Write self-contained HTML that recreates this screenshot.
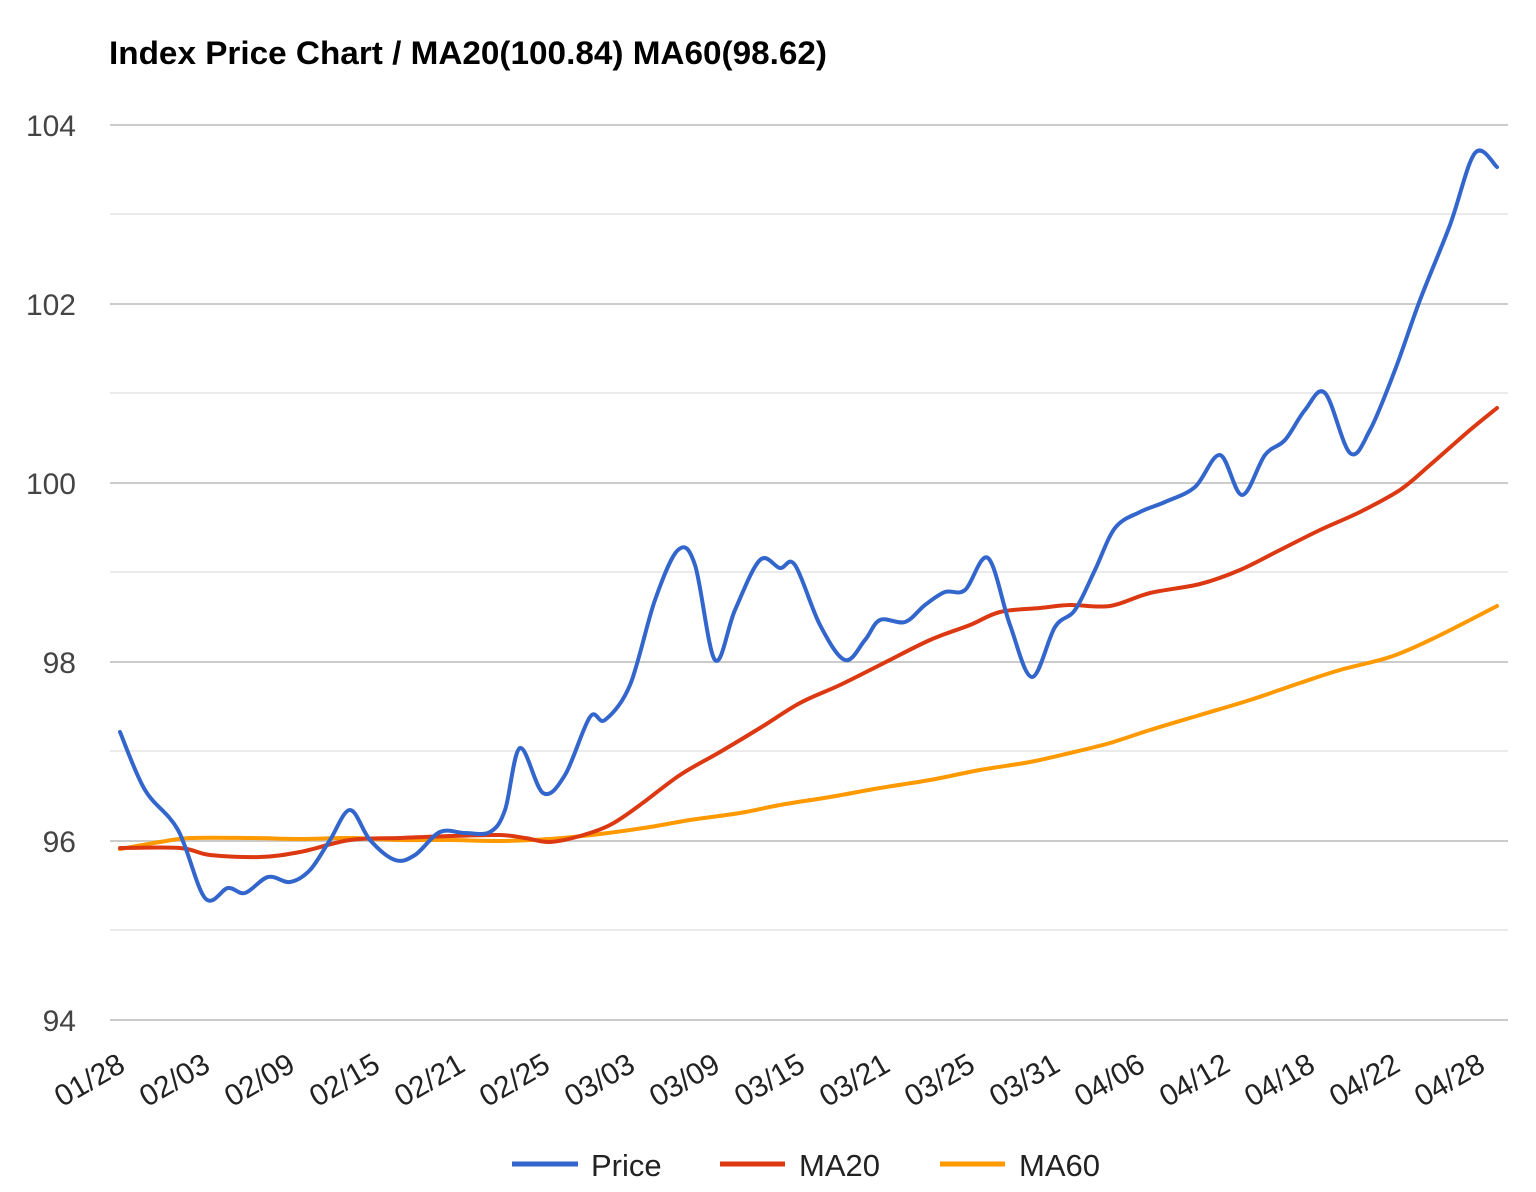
<!DOCTYPE html>
<html><head><meta charset="utf-8"><style>
body{margin:0;background:#fff;}
svg{display:block;font-family:"Liberation Sans",Arial,sans-serif;}
</style></head><body>
<svg id="s" width="1536" height="1192" viewBox="0 0 1536 1192">
<rect width="1536" height="1192" fill="#fff"/>
<text x="109" y="64" font-size="32" font-weight="bold" fill="#000" textLength="718" lengthAdjust="spacingAndGlyphs">Index Price Chart / MA20(100.84) MA60(98.62)</text>
<g stroke="#ebebeb" stroke-width="2">
<line x1="110" x2="1508" y1="214" y2="214"/><line x1="110" x2="1508" y1="393" y2="393"/>
<line x1="110" x2="1508" y1="572" y2="572"/><line x1="110" x2="1508" y1="751" y2="751"/>
<line x1="110" x2="1508" y1="930" y2="930"/>
</g>
<g stroke="#cccccc" stroke-width="2">
<line x1="110" x2="1508" y1="125" y2="125"/><line x1="110" x2="1508" y1="304" y2="304"/>
<line x1="110" x2="1508" y1="483" y2="483"/><line x1="110" x2="1508" y1="662" y2="662"/>
<line x1="110" x2="1508" y1="841" y2="841"/><line x1="110" x2="1508" y1="1020" y2="1020"/>
</g>
<g font-size="30" fill="#444" text-anchor="end">
<text x="76" y="136">104</text><text x="76" y="315">102</text><text x="76" y="494">100</text>
<text x="76" y="673">98</text><text x="76" y="852">96</text><text x="76" y="1031">94</text>
</g>
<g font-size="30" fill="#222" text-anchor="end">
<text transform="translate(127,1070) rotate(-30)">01/28</text>
<text transform="translate(212,1070) rotate(-30)">02/03</text>
<text transform="translate(297,1070) rotate(-30)">02/09</text>
<text transform="translate(382,1070) rotate(-30)">02/15</text>
<text transform="translate(467,1070) rotate(-30)">02/21</text>
<text transform="translate(552,1070) rotate(-30)">02/25</text>
<text transform="translate(637,1070) rotate(-30)">03/03</text>
<text transform="translate(722,1070) rotate(-30)">03/09</text>
<text transform="translate(807,1070) rotate(-30)">03/15</text>
<text transform="translate(892,1070) rotate(-30)">03/21</text>
<text transform="translate(977,1070) rotate(-30)">03/25</text>
<text transform="translate(1062,1070) rotate(-30)">03/31</text>
<text transform="translate(1147,1070) rotate(-30)">04/06</text>
<text transform="translate(1232,1070) rotate(-30)">04/12</text>
<text transform="translate(1317,1070) rotate(-30)">04/18</text>
<text transform="translate(1402,1070) rotate(-30)">04/22</text>
<text transform="translate(1487,1070) rotate(-30)">04/28</text>
</g>
<g id="lines" fill="none" stroke-width="4" stroke-linejoin="round" stroke-linecap="round">
<polyline stroke="#ff9900" points="120,849 160,842 190,838 250,838 300,839 350,838 400,840 450,840 500,841 550,839 600,834 650,827 690,820 740,813 780,805 830,797 880,788 930,780 980,770 1030,762 1070,753 1110,743 1150,730 1200,715 1250,700 1300,683 1340,670 1390,657 1430,640 1470,620 1497,606"/>
<polyline stroke="#dc3912" points="120,848 180,848 210,855 260,857 300,852 350,840 400,838 450,836 500,835 525,838 550,842 580,836 610,825 640,805 680,775 720,752 760,728 800,703 840,685 880,665 930,640 970,625 1000,612 1040,608 1070,605 1110,606 1150,593 1200,584 1240,570 1280,550 1320,530 1360,512 1400,490 1430,465 1470,430 1497,408"/>
<polyline stroke="#3366cc" points="120,732 145,790 178,830 205,898 228,888 245,893 268,877 290,882 310,870 330,840 350,810 370,840 395,860 415,855 440,832 465,833 490,832 505,810 520,748 543,793 565,775 590,717 605,720 630,685 655,600 678,550 695,565 715,660 735,610 760,560 780,568 795,565 820,625 845,660 865,640 880,620 905,622 925,605 945,592 965,590 988,558 1010,625 1032,677 1055,627 1075,610 1095,570 1115,528 1140,512 1165,502 1195,487 1220,455 1242,495 1265,455 1285,440 1305,410 1325,393 1350,453 1370,430 1395,370 1420,300 1450,225 1475,153 1497,167"/>
</g>
<g font-size="31" fill="#222">
<line x1="512" x2="578" y1="1164" y2="1164" stroke="#3366cc" stroke-width="5"/>
<text x="591" y="1176">Price</text>
<line x1="720" x2="785" y1="1164" y2="1164" stroke="#dc3912" stroke-width="5"/>
<text x="799" y="1176">MA20</text>
<line x1="940" x2="1005" y1="1164" y2="1164" stroke="#ff9900" stroke-width="5"/>
<text x="1019" y="1176">MA60</text>
</g>
</svg>
<script>
document.querySelectorAll('#lines polyline').forEach(function(pl){
  var p=pl.getAttribute('points').trim().split(/\s+/).map(function(s){return s.split(',').map(Number);});
  var d='M'+p[0][0]+','+p[0][1];
  for(var i=0;i<p.length-1;i++){
    var p0=p[i-1]||p[i],p1=p[i],p2=p[i+1],p3=p[i+2]||p2;
    var c1x=p1[0]+(p2[0]-p0[0])/6,c1y=p1[1]+(p2[1]-p0[1])/6;
    var c2x=p2[0]-(p3[0]-p1[0])/6,c2y=p2[1]-(p3[1]-p1[1])/6;
    d+=' C'+c1x+','+c1y+' '+c2x+','+c2y+' '+p2[0]+','+p2[1];
  }
  var path=document.createElementNS('http://www.w3.org/2000/svg','path');
  path.setAttribute('d',d);path.setAttribute('stroke',pl.getAttribute('stroke'));
  pl.parentNode.replaceChild(path,pl);
});
</script>
</body></html>
